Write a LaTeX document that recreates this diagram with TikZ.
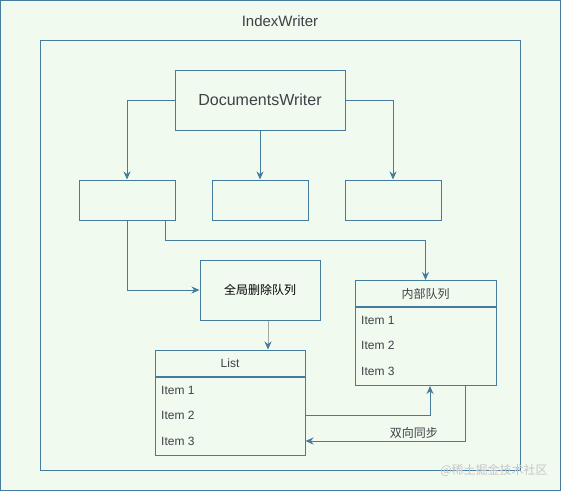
\documentclass[tikz,border=0pt]{standalone}
\usepackage{fontspec}
\setmainfont{Liberation Sans}
\newfontfamily\cjk{Noto Sans CJK SC}
\usetikzlibrary{arrows.meta, positioning}
\definecolor{quadro}{HTML}{457B9D}
\definecolor{fundo}{HTML}{F1FAEE}
\definecolor{texto}{HTML}{3C4248}

\begin{document}
\begin{tikzpicture}[x=1pt, y=-1pt,
                box/.style={draw=quadro, fill=fundo, line width=1pt, inner sep=0pt,
                    text=texto, font=\fontsize{12}{14}\selectfont},
                item/.style={anchor=west, inner sep=0pt, text=texto,
                    font=\fontsize{12}{14}\selectfont},
                arrow/.style={-{Stealth[length=8pt, width=7pt]}, line width=1pt, draw=quadro}
            ]
                \useasboundingbox (0,0) rectangle (561,491);
                \node[box, minimum width=560pt, minimum height=490pt] (index) at (280.5,245.5) {};
                \node[text=texto, font=\fontsize{15}{18}\selectfont] (indexlabel) at (280,21) {IndexWriter};
                \node[box, minimum width=480pt, minimum height=430pt] (frame) at (280,255) {};
                \node[box, minimum width=170pt, minimum height=60pt,
                    font=\fontsize{16}{19}\selectfont] (dw) at (260,100) {DocumentsWriter};
                \node[box, minimum width=96pt, minimum height=40pt] (dwpt1) at (127,200) {};
                \node[box, minimum width=96pt, minimum height=40pt] (dwpt2) at (260,200) {};
                \node[box, minimum width=96pt, minimum height=40pt] (dwpt3) at (393,200) {};
                \node[box, minimum width=120pt, minimum height=60pt, text=black] (global) at (260,290) {\cjk 全局删除队列};
                % List
                \node[box, minimum width=150pt, minimum height=26pt] (listhead) at (230,363) {List};
                \node[box, minimum width=150pt, minimum height=78pt, below=0pt of listhead] (listbody) {};
                \node[item] (listitem1) at (161,390) {Item 1};
                \node[item] (listitem2) at (161,415.5) {Item 2};
                \node[item] (listitem3) at (161,441) {Item 3};
                % 内部队列
                \node[box, minimum width=141pt, minimum height=26pt] (queuehead) at (425.5,293.5) {\cjk 内部队列};
                \node[box, minimum width=141pt, minimum height=78pt, below=0pt of queuehead] (queuebody) {};
                \node[item] (queueitem1) at (361,320) {Item 1};
                \node[item] (queueitem2) at (361,345.5) {Item 2};
                \node[item] (queueitem3) at (361,371) {Item 3};
                \draw[arrow] (dw.west) -| (dwpt1.north);
                \draw[arrow] (dw.south) -- (dwpt2.north);
                \draw[arrow] (dw.east) -| (dwpt3.north);
                \draw[arrow] (dwpt1.south) |- (global.west);
                \draw[arrow] ([xshift=-10pt]dwpt1.south east) -- ++(0,20) -| (queuehead.north);
                \draw[arrow, draw=gray!70, -{Stealth[length=8pt, width=7pt, color=quadro]}]
                    ([xshift=8pt]global.south) -- ([xshift=8pt]global.south |- listhead.north);
                \draw[arrow] (listbody.east |- listitem2) -| ([xshift=4.5pt]queuebody.south);
                \draw[arrow] ([xshift=39.5pt]queuebody.south) |- (listbody.east |- listitem3)
                    node[pos=0.66, above=2pt, inner sep=0pt, text=texto,
                        font=\cjk\fontsize{12}{14}\selectfont] (sync) {双向同步};
                \node[text=gray!45, font=\cjk\fontsize{12}{14}\selectfont] (mark) at (494,470) {@稀土掘金技术社区};
            \end{tikzpicture}
\end{document}
